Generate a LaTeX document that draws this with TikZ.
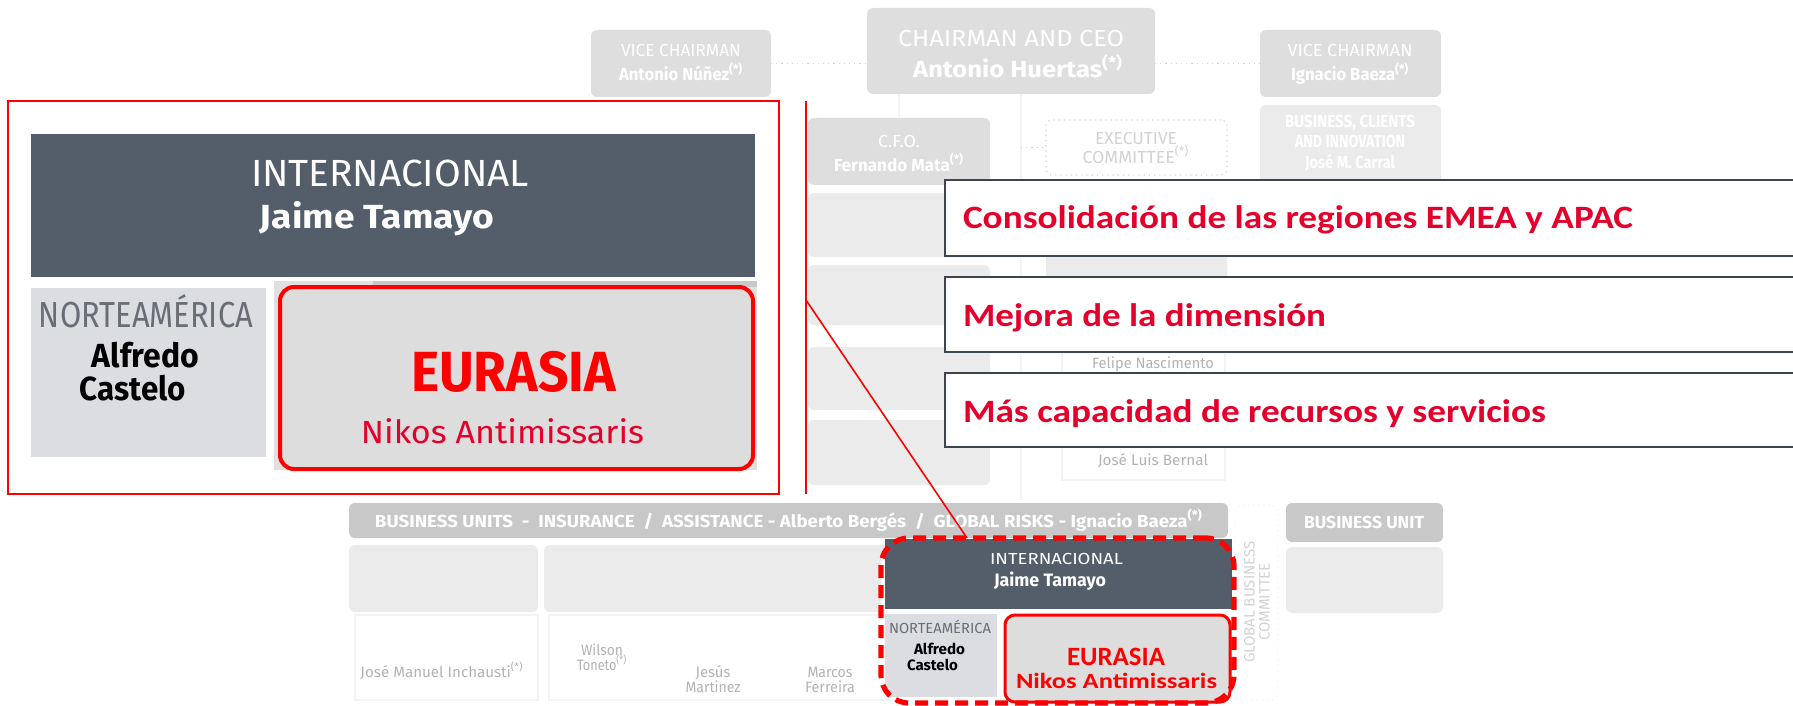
\documentclass[tikz,border=0pt]{standalone}
\usepackage{fontspec}
\usepackage{graphicx}
\usetikzlibrary{fit}
\newfontfamily\dinf{Fira Sans}
\newfontfamily\calib{Carlito}
\definecolor{hdr}{RGB}{84,94,106}
\definecolor{cellA}{RGB}{220,221,225}
\definecolor{cellB}{RGB}{221,221,221}
\definecolor{cellC}{RGB}{224,224,224}
\definecolor{natext}{RGB}{105,110,118}
\definecolor{rline}{RGB}{255,0,0}
\definecolor{rtext}{RGB}{228,0,43}
\definecolor{boxline}{RGB}{60,70,80}
\definecolor{bgA}{RGB}{222,222,222}
\definecolor{bgB}{RGB}{235,235,235}
\definecolor{bgC}{RGB}{200,200,200}
\definecolor{bgL}{RGB}{210,210,210}
\definecolor{bgF}{RGB}{243,243,243}
\definecolor{bgT}{RGB}{178,178,178}
\newcommand\sq[2]{\resizebox{\dimexpr #1pt/2\relax}{\height}{#2}}
\newcommand\fs[1]{\fontsize{#1}{#1}\selectfont}
\begin{document}
\begin{tikzpicture}[x=0.5pt,y=-0.5pt,
  txt/.style={inner sep=0pt, outer sep=0pt, anchor=base},
  fitbox/.style={inner sep=0pt, outer sep=0pt},
  bgbox/.style={fitbox, fill=bgA, rounded corners=3pt},
  bgdot/.style={draw=bgL, dotted, line width=0.6pt},
  bgfaint/.style={draw=bgF, line width=0.6pt},
  bgw/.style={txt, text=white, font={\dinf\fs{8.7}}},
  bgwb/.style={txt, text=white, font={\dinf\bfseries\fs{8.7}}},
  bgg/.style={txt, text=bgT, font={\dinf\fs{7.5}}},
  rthin/.style={draw=rline, line width=0.8pt},
  bullet/.style={fitbox, draw=boxline, line width=1.25pt, fill=white},
  btxt/.style={txt, anchor=base west, text=rtext, font={\calib\bfseries\fs{16.3}}}
]
\useasboundingbox (0,0) rectangle (1793,706);
\clip (0,0) rectangle (1793,706);

% ---------- faded background chart ----------
\node[bgbox,fit={(591,30)(771,97)}] (vcl) {};
\node[bgbox,fit={(867,8)(1155,94)}] (ceo) {};
\node[bgbox,fit={(1260,30)(1441,97)}] (vcr) {};
\node[bgbox,fill=bgB,fit={(1260,105)(1441,200)}] (bci) {};
\node[bgbox,fit={(808,118)(990,185)}] (cfo) {};
\node[bgbox,fill=bgB,fit={(808,193)(990,257)}] (fin) {};
\node[bgbox,fill=bgB,fit={(808,265)(990,325)}] (inv) {};
\node[bgbox,fill=bgB,fit={(808,347)(990,410)}] (gen) {};
\node[bgbox,fill=bgB,fit={(808,420)(990,485)}] (str) {};
\node[fitbox,bgdot,rounded corners=3pt,fit={(1046,120)(1227,175)}] (exc) {};
\node[bgbox,fill=bgB,fit={(1046,183)(1227,280)}] (exb) {};
\node[fitbox,bgfaint,fit={(1062,296)(1225,380)}] (fel) {};
\node[fitbox,bgfaint,fit={(1062,392)(1225,480)}] (jlb) {};
\node[bgbox,fill=bgC,fit={(349,503)(1228,538)}] (bar) {};
\node[bgbox,fill=bgB,fit={(349,545)(538,612)}] (ibe) {};
\node[bgbox,fill=bgB,fit={(544,545)(1212,612)}] (lat) {};
\node[fitbox,bgfaint,fit={(355,615)(538,700)}] (col1) {};
\node[fitbox,bgfaint,fit={(549,615)(1212,700)}] (col2) {};
\node[fitbox,bgdot,draw=bgF,rounded corners=4pt,fit={(1235,505)(1278,700)}] (gbc) {};
\node[bgbox,fill=bgC,fit={(1286,503)(1443,542)}] (bun) {};
\node[bgbox,fill=bgB,fit={(1286,547)(1443,613)}] (rei) {};

\coordinate (sp1) at (1021,94);
\coordinate (sp2) at (1021,500);
\draw[bgdot] (vcl.east) -- (vcl.east -| ceo.west);
\draw[bgdot] (vcr.west -| ceo.east) -- (vcr.west);
\draw[bgfaint] (ceo.south -| cfo.north) -- (cfo.north);
\draw[bgfaint] (sp1) -- (sp2);
\draw[bgdot] (sp1 |- exc.west) -- (exc.west);

\node[bgw] (vcl1) at (681,57) {\sq{120}{VICE CHAIRMAN}};
\node[bgwb] (vcl2) at (681,81) {\sq{124}{Antonio Núñez\textsuperscript{(*)}}};
\node[txt,text=white,font={\dinf\fs{11.6}}] (ceo1) at (1011,47) {\sq{226}{CHAIRMAN AND CEO}};
\node[txt,text=white,font={\dinf\bfseries\fs{11.6}}] (ceo2) at (1018,77) {\sq{210}{Antonio Huertas\textsuperscript{(*)}}};
\node[bgw] (vcr1) at (1350,57) {\sq{125}{VICE CHAIRMAN}};
\node[bgwb] (vcr2) at (1350,81) {\sq{118}{Ignacio Baeza\textsuperscript{(*)}}};
\node[bgwb] (bci1) at (1350,128) {\sq{130}{BUSINESS, CLIENTS}};
\node[bgwb] (bci2) at (1350,148) {\sq{110}{AND INNOVATION}};
\node[bgwb] (bci3) at (1350,168) {\sq{90}{José M. Carral}};
\node[bgw] (cfo1) at (899,148) {\sq{42}{C.F.O.}};
\node[bgwb] (cfo2) at (899,171) {\sq{130}{Fernando Mata\textsuperscript{(*)}}};
\node[txt,text=bgL,font={\dinf\fs{8.7}}] (exc1) at (1136,145) {\sq{82}{EXECUTIVE}};
\node[txt,text=bgL,font={\dinf\fs{8.7}}] (exc2) at (1136,163) {\sq{107}{COMMITTEE\textsuperscript{(*)}}};
\node[bgg] (felt) at (1153,368) {\sq{122}{Felipe Nascimento}};
\node[bgg] (jlbt) at (1153,465) {\sq{110}{José Luis Bernal}};
\node[bgwb] (bart) at (789,527) {\sq{828}{BUSINESS UNITS \ - \ INSURANCE \ / \ ASSISTANCE - Alberto Bergés \ / \ GLOBAL RISKS - Ignacio Baeza\textsuperscript{(*)}}};
\node[bgg] (jmi) at (442,677) {\sq{163}{José Manuel Inchausti\textsuperscript{(*)}}};
\node[bgg] (wt1) at (602,655) {\sq{42}{Wilson}};
\node[bgg] (wt2) at (602,670) {\sq{50}{Toneto\textsuperscript{(*)}}};
\node[bgg] (jm1) at (713,677) {\sq{35}{Jesús}};
\node[bgg] (jm2) at (713,692) {\sq{55}{Martinez}};
\node[bgg] (mf1) at (830,677) {\sq{45}{Marcos}};
\node[bgg] (mf2) at (830,692) {\sq{50}{Ferreira}};
\node[txt,anchor=center,rotate=90,text=bgL,font={\dinf\fs{7.5}},align=center] (gbct) at (1257,602) {GLOBAL BUSINESS\\COMMITTEE};
\node[bgwb] (bunt) at (1364,528) {\sq{120}{BUSINESS UNIT}};

% ---------- large zoomed inset ----------
\node[fitbox,draw=rline,line width=0.8pt,fill=white,fit={(8,101)(779,494)}] (frame) {};
\node[fitbox,fill=hdr,fit={(31,134)(755,277)}] (bhdr) {};
\node[fitbox,fill=cellA,fit={(31,288)(266,457)}] (bna) {};
\node[fitbox,fill=cellC,fit={(274,281)(757,470)}] (beub) {};
\path[fill=bgC] (373,281) rectangle (757,287);
\node[fitbox,draw=rline,line width=2pt,fill=cellB,rounded corners=7pt,fit={(280,287)(753,469)}] (beu) {};

\node[txt,text=white,font={\dinf\fs{18.9}}] (bi1) at (390,186) {\sq{278}{INTERNACIONAL}};
\node[txt,text=white,font={\dinf\bfseries\fs{16.7}}] (bi2) at (377,228) {\sq{234}{Jaime Tamayo}};
\node[txt,text=natext,font={\dinf\fs{18.1}}] (bn1) at (146,327) {\sq{214}{NORTEAMÉRICA}};
\node[txt,text=black,font={\dinf\bfseries\fs{16.7}}] (bn2) at (145.5,367) {\sq{107}{Alfredo}};
\node[txt,text=black,font={\dinf\bfseries\fs{16.7}}] (bn3) at (133,400) {\sq{106}{Castelo}};
\node[txt,text=rline,font={\dinf\bfseries\fs{28.3}}] (be1) at (513.5,391) {\sq{205}{EURASIA}};
\node[txt,text=rtext,font={\dinf\fs{16}}] (be2) at (502.5,443) {\sq{283}{Nikos Antimissaris}};

% ---------- red connectors ----------
\coordinate (vtop) at (806,101);
\coordinate (vbot) at (806,494);
\coordinate (vj) at (806,300);
\coordinate (dend) at (967,538);
\draw[rthin] (vtop) -- (vbot);
\draw[rthin] (vj) -- (dend);

% ---------- bullet boxes ----------
\node[bullet,fit={(945,180)(1810,256)}] (b1) {};
\node[bullet,fit={(945,277)(1810,352)}] (b2) {};
\node[bullet,fit={(945,373)(1810,447)}] (b3) {};
\node[btxt] (t1) at (963,228) {\sq{670}{Consolidación de las regiones EMEA y APAC}};
\node[btxt] (t2) at (963,326) {\sq{363}{Mejora de la dimensión}};
\node[btxt] (t3) at (963,422) {\sq{583}{Más capacidad de recursos y servicios}};

% ---------- small inset ----------
\node[fitbox,fill=white,rounded corners=14pt,fit={(881,538)(1234,703)}] (sbg) {};
\node[fitbox,fill=hdr,fit={(885,539)(1232,609)}] (shdr) {};
\node[fitbox,fill=cellA,fit={(885,614)(997,697)}] (sna) {};
\node[fitbox,draw=rline,line width=1.5pt,fill=cellB,rounded corners=5pt,fit={(1005,615)(1230,702)}] (seu) {};
\node[fitbox,draw=rline,line width=2.6pt,dash pattern=on 6.5pt off 3.5pt,rounded corners=14pt,fit={(881,538)(1234,703)}] (sframe) {};

\node[txt,text=white,font={\dinf\fs{8}}] (si1) at (1056.5,564) {\sq{133}{INTERNACIONAL}};
\node[txt,text=white,font={\dinf\bfseries\fs{9}}] (si2) at (1050,586) {\sq{112}{Jaime Tamayo}};
\node[txt,text=natext,font={\dinf\fs{7.3}}] (sn1) at (940,633) {\sq{102}{NORTEAMÉRICA}};
\node[txt,text=black,font={\dinf\bfseries\fs{7.5}}] (sn2) at (939.5,654) {\sq{51}{Alfredo}};
\node[txt,text=black,font={\dinf\bfseries\fs{7.5}}] (sn3) at (932.5,670) {\sq{51}{Castelo}};
\node[txt,text=rline,font={\calib\bfseries\fs{13.2}}] (se1) at (1116,665) {\sq{98}{EURASIA}};
\node[txt,text=rline,font={\calib\bfseries\fs{10.9}}] (se2) at (1116.5,688) {\sq{201}{Nikos Antimissaris}};
\end{tikzpicture}
\end{document}
